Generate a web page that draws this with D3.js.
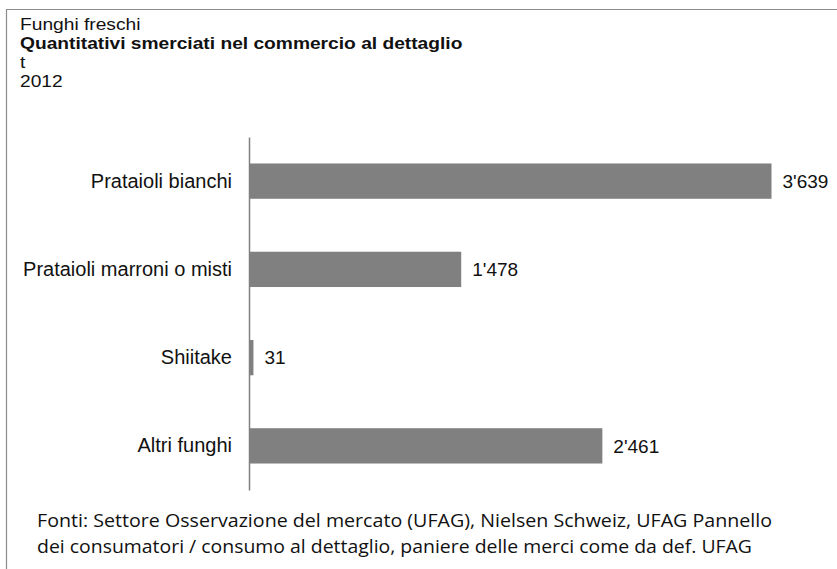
<!DOCTYPE html>
<html>
<head>
<meta charset="utf-8">
<script src="https://cdn.jsdelivr.net/npm/d3@7"></script>
<style>
	body { margin: 0; background: #fff; }
	svg { display: block; }
</style>
</head>
<body>
<svg width="837" height="569"></svg>
<script>
'use strict';
// chart data
let aCategories = ["Prataioli bianchi", "Prataioli marroni o misti", "Shiitake", "Altri funghi"]
let aValues = [3639, 1478, 31, 2461]
let aTitle = ["Funghi freschi", "Quantitativi smerciati nel commercio al dettaglio", "t", "2012"]
let aSource = [
	"Fonti: Settore Osservazione del mercato (UFAG), Nielsen Schweiz, UFAG Pannello",
	"dei consumatori / consumo al dettaglio, paniere delle merci come da def. UFAG"]

let sFont = "Liberation Sans, Arial, sans-serif"

let eSvg = d3.select("svg")

// frame (top + left only, the rest is cut off)
eSvg.append("path")
	.attr("d", "M6.5,569 V9.5 H837")
	.attr("fill", "none")
	.attr("stroke", "#8c8c8c")
	.attr("stroke-width", 1.2)

// title block - the original glyphs are wide, so stretch a bit horizontally
eSvg.append("g")
	.attr("transform", "translate(20,0) scale(1.2,1)")
	.selectAll("text")
	.data(aTitle)
	.join("text")
	.attr("x", 0)
	.attr("y", (d, i) => 30.5 + i * 18.8)
	.attr("font-family", sFont)
	.attr("font-size", 16)
	.attr("font-weight", (d, i) => i === 1 ? "bold" : "normal")
	.attr("fill", "#111")
	.text(d => d)

// scales
let x = d3.scaleLinear().domain([0, 3639]).range([249, 771.5])
let y = d3.scaleBand().domain(aCategories).range([137, 490]).paddingInner(0.6).paddingOuter(0.3)

let fmt = v => d3.format(",")(v).replace(/,/g, "'")

// bars
eSvg.append("g").selectAll("rect")
	.data(aValues)
	.join("rect")
	.attr("x", x(0))
	.attr("y", (d, i) => y(aCategories[i]))
	.attr("width", d => x(d) - x(0))
	.attr("height", y.bandwidth())
	.attr("fill", "#808080")

// value labels
eSvg.append("g").selectAll("text")
	.data(aValues)
	.join("text")
	.attr("x", d => x(d) + 11)
	.attr("y", (d, i) => y(aCategories[i]) + y.bandwidth() / 2)
	.attr("dy", "0.35em")
	.attr("font-family", sFont)
	.attr("font-size", 19)
	.attr("fill", "#111")
	.text(fmt)

// category axis
let yAxis = d3.axisLeft(y).tickSize(0).tickPadding(17)
let eAxis = eSvg.append("g")
	.attr("transform", `translate(${x(0)},0)`)
	.call(yAxis)
	.attr("font-family", sFont)
	.attr("font-size", 20)
eAxis.select(".domain").attr("stroke", "#808080").attr("stroke-width", 1.5)
eAxis.selectAll("text").attr("fill", "#111")

// source note
eSvg.append("g").selectAll("text")
	.data(aSource)
	.join("text")
	.attr("x", 37)
	.attr("y", (d, i) => 527 + i * 26)
	.attr("font-family", "Open Sans, sans-serif")
	.attr("font-size", 18)
	.attr("fill", "#111")
	.attr("textLength", (d, i) => i === 0 ? 735 : 715)
	.attr("lengthAdjust", "spacingAndGlyphs")
	.text(d => d)
</script>
</body>
</html>
